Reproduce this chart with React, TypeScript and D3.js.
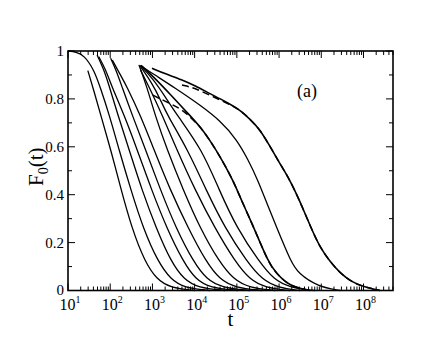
import React from 'react';
import * as d3 from 'd3';

// log10(t) , F0(t) pairs, fastest decay first
const curve0 = [[1.47, 0.918], [1.62, 0.83], [1.78, 0.73], [2.04, 0.57], [2.23, 0.44], [2.51, 0.26], [2.82, 0.12], [3.11, 0.045], [3.42, 0.012], [4.01, 0]];
const curve1 = [[1.0, 1], [1.19, 0.995], [1.38, 0.983], [1.62, 0.92], [1.76, 0.85], [1.98, 0.733], [2.21, 0.587], [2.49, 0.42], [2.78, 0.26], [3.13, 0.12], [3.44, 0.045], [3.75, 0.012], [4.36, 0]];
const curve2 = [[1.69, 0.983], [1.83, 0.93], [1.95, 0.87], [2.18, 0.733], [2.45, 0.587], [2.75, 0.42], [3.09, 0.26], [3.44, 0.12], [3.75, 0.045], [4.08, 0.012], [4.72, 0]];
const curve3 = [[1.73, 0.976], [1.9, 0.92], [2.04, 0.85], [2.33, 0.733], [2.64, 0.587], [2.98, 0.42], [3.34, 0.26], [3.73, 0.12], [4.03, 0.045], [4.36, 0.012], [5.03, 0]];
const curve4 = [[2.01, 0.97], [2.14, 0.92], [2.28, 0.85], [2.52, 0.733], [2.84, 0.587], [3.19, 0.42], [3.56, 0.26], [3.97, 0.12], [4.29, 0.045], [4.65, 0.012], [5.31, 0]];
const curve5 = [[2.05, 0.962], [2.21, 0.91], [2.4, 0.85], [2.71, 0.733], [3.04, 0.587], [3.42, 0.42], [3.85, 0.26], [4.27, 0.12], [4.6, 0.045], [4.96, 0.012], [5.6, 0]];
const curve6 = [[2.68, 0.942], [2.87, 0.85], [3.06, 0.733], [3.35, 0.587], [3.73, 0.42], [4.13, 0.26], [4.58, 0.12], [4.93, 0.045], [5.29, 0.012], [5.91, 0]];
const curve7 = [[2.72, 0.92], [2.92, 0.85], [3.23, 0.733], [3.58, 0.587], [4.01, 0.42], [4.48, 0.26], [4.96, 0.12], [5.31, 0.045], [5.67, 0.012], [6.26, 0]];
const curve8 = [[2.71, 0.937], [3.01, 0.86], [3.18, 0.8], [3.35, 0.733], [3.84, 0.587], [4.27, 0.42], [4.72, 0.26], [5.24, 0.12], [5.6, 0.045], [5.98, 0.012], [6.5, 0]];
const curve9 = [[2.71, 0.94], [3.01, 0.885], [3.3, 0.81], [3.58, 0.733], [4.18, 0.587], [4.58, 0.42], [5.0, 0.26], [5.53, 0.12], [5.88, 0.045], [6.26, 0.012], [6.85, 0]];
const curve10 = [[2.73, 0.94], [3.01, 0.895], [3.42, 0.82], [3.89, 0.73], [4.13, 0.684], [4.36, 0.628], [4.65, 0.545], [4.91, 0.46], [5.15, 0.36], [5.41, 0.26], [5.74, 0.12], [5.93, 0.072], [6.26, 0.016], [6.73, 0]];
const curve11 = [[2.73, 0.938], [3.01, 0.905], [3.54, 0.845], [4.13, 0.774], [4.6, 0.71], [5.0, 0.63], [5.27, 0.545], [5.5, 0.46], [5.72, 0.36], [5.95, 0.26], [6.28, 0.12], [6.45, 0.072], [6.92, 0.016], [7.45, 0]];
const curve12 = [[2.99, 0.928], [3.3, 0.905], [3.7, 0.88], [4.01, 0.855], [4.36, 0.822], [4.72, 0.79], [5.08, 0.754], [5.31, 0.715], [5.55, 0.672], [5.79, 0.6], [6.02, 0.53], [6.26, 0.46], [6.5, 0.37], [6.76, 0.26], [6.97, 0.18], [7.21, 0.12], [7.45, 0.072], [7.73, 0.035], [7.99, 0.016], [8.39, 0]];

// dashed comparison curves
const dashedLow = [[3.01, 0.816], [3.3, 0.79], [3.65, 0.762], [3.89, 0.726], [4.13, 0.684], [4.36, 0.628], [4.65, 0.545], [4.91, 0.46], [5.15, 0.36], [5.41, 0.26], [5.74, 0.12], [5.93, 0.072], [6.26, 0.016], [6.73, 0]];
const dashedHigh = [[3.7, 0.858], [4.01, 0.845], [4.36, 0.815], [4.72, 0.787], [5.08, 0.754], [5.31, 0.715], [5.55, 0.672], [5.79, 0.6], [6.02, 0.53], [6.26, 0.46], [6.5, 0.37], [6.76, 0.26], [6.97, 0.18], [7.21, 0.12], [7.45, 0.072], [7.73, 0.035], [7.99, 0.016], [8.39, 0]];

const solidCurves = [curve0, curve1, curve2, curve3, curve4, curve5, curve6, curve7, curve8, curve9, curve10, curve11, curve12];
const thickCurves = [10, 12];
const dashedCurves = [dashedLow, dashedHigh];

const xDecades = [1, 2, 3, 4, 5, 6, 7, 8];
const yTickValues = [0, 0.2, 0.4, 0.6, 0.8, 1];
const yTickLabels = ['0', '0.2', '0.4', '0.6', '0.8', '1'];

const W = 443;
const H = 342;
const margin = { top: 51, right: 50, bottom: 51.5, left: 68 };
const font = "'Liberation Serif', 'Times New Roman', Times, 'DejaVu Serif', serif";

export default function App() {
  const x = d3.scaleLog().domain([10, 5e8]).range([margin.left, W - margin.right]);
  const y = d3.scaleLinear().domain([0, 1]).range([H - margin.bottom, margin.top]);

  const line = d3.line<number[]>()
    .x(d => x(Math.pow(10, d[0])))
    .y(d => y(d[1]))
    .curve(d3.curveBasis);

  const x0 = margin.left, x1 = W - margin.right;
  const y0 = H - margin.bottom, y1 = margin.top;
  const major = 7, minor = 4;

  // log minor ticks from the scale itself
  const xTicks = x.ticks();
  const yMinor = y.ticks(10);

  return (
    <svg width={W} height={H} style={{ position: 'absolute', left: 0, top: 0, background: '#fff' }}>
      <rect x={0} y={0} width={W} height={H} fill="#fff" />

      {solidCurves.map((c, i) => (
        <path key={'s' + i} d={line(c) || ''} fill="none" stroke="#000"
          strokeWidth={thickCurves.includes(i) ? 1.6 : 1.3} />
      ))}
      {dashedCurves.map((c, i) => (
        <path key={'d' + i} d={line(c) || ''} fill="none" stroke="#000"
          strokeWidth={1.5} strokeDasharray="7,4" />
      ))}

      {/* frame */}
      <rect x={x0} y={y1} width={x1 - x0} height={y0 - y1} fill="none" stroke="#000" strokeWidth={1.6} />

      {/* x ticks, bottom and top, pointing inward */}
      {xTicks.map((t, i) => {
        const isMajor = Math.abs(Math.log10(t) - Math.round(Math.log10(t))) < 1e-9;
        const len = isMajor ? major : minor;
        const px = x(t);
        return (
          <g key={'xt' + i}>
            <line x1={px} x2={px} y1={y0} y2={y0 - len} stroke="#000" strokeWidth={1} />
            <line x1={px} x2={px} y1={y1} y2={y1 + len} stroke="#000" strokeWidth={1} />
          </g>
        );
      })}
      {xDecades.map(d => (
        <text key={'xl' + d} x={x(Math.pow(10, d)) + 2} y={y0 + 19} textAnchor="middle"
          fontSize={16} style={{ fontFamily: font }}>
          <tspan>10</tspan>
          <tspan dy={-7} fontSize={10}>{d}</tspan>
        </text>
      ))}

      {/* y ticks, left and right */}
      {yMinor.map((v, i) => {
        const isMajor = Math.abs(v * 5 - Math.round(v * 5)) < 1e-9;
        const len = isMajor ? major : minor;
        const py = y(v);
        return (
          <g key={'yt' + i}>
            <line x1={x0} x2={x0 + len} y1={py} y2={py} stroke="#000" strokeWidth={1} />
            <line x1={x1} x2={x1 - len} y1={py} y2={py} stroke="#000" strokeWidth={1} />
          </g>
        );
      })}
      {yTickValues.map((v, i) => (
        <text key={'yl' + i} x={x0 - 4} y={y(v) - (v === 0 ? 1 : 0)} dy="0.35em" textAnchor="end"
          fontSize={15} style={{ fontFamily: font }}>
          {yTickLabels[i]}
        </text>
      ))}

      {/* axis titles */}
      <text x={(x0 + x1) / 2} y={326} textAnchor="middle" fontSize={21} style={{ fontFamily: font }}>t</text>
      <text transform={`translate(43, ${(y0 + y1) / 2 - 4}) rotate(-90)`} textAnchor="middle"
        fontSize={21} style={{ fontFamily: font }}>
        <tspan>F</tspan>
        <tspan dy={5} fontSize={14}>0</tspan>
        <tspan dy={-5}>(t)</tspan>
      </text>

      <text x={307} y={97} textAnchor="middle" fontSize={18} style={{ fontFamily: font }}>(a)</text>
    </svg>
  );
}
